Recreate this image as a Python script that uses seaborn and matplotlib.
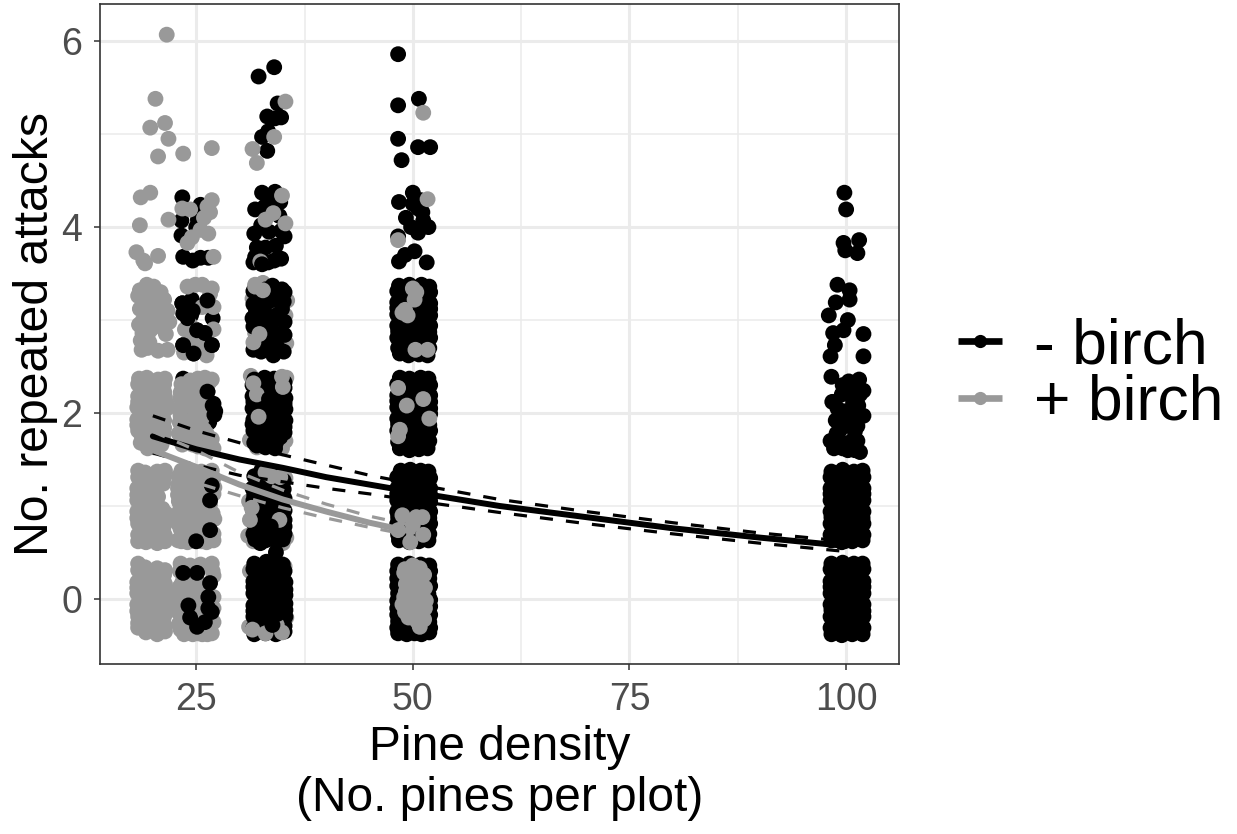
import pandas as pd
import matplotlib
matplotlib.use("Agg")
import matplotlib.pyplot as plt
from matplotlib.lines import Line2D
import seaborn as sns

# ---------------- Points (pine density, attacks) ----------------
# grey points that sit under the black ones
grey_under = [
    (31.8,3.38),(32.7,3.40),(31.5,3.23),(35.5,3.21),(35.3,3.05),(31.8,2.86),(35.4,2.75),
    (31.3,2.40),(35.4,2.38),(31.2,1.71),(32.0,1.63),(35.3,1.70),(34.9,1.62),
    (31.1,1.05),(35.3,1.30),(31.0,0.68),(35.4,0.66),(31.6,0.62),(35.0,0.60),
    (31.2,0.30),(35.2,0.35),(31.1,-0.30),(35.4,-0.2),
]

black_base = [
    # density 25, upper scatter
    (23.4,4.32),(25.5,4.24),(23.3,4.07),(25.2,4.08),(23.3,3.91),(25.0,4.00),
    (23.5,3.68),(24.6,3.64),(25.5,3.67),(26.4,3.67),
    (23.4,3.18),(24.5,3.22),(26.3,3.21),(23.5,3.07),(24.4,3.05),(25.1,2.89),(26.0,2.86),
    (23.5,2.73),(26.8,2.73),(24.7,2.64),(26.9,3.02),
    (23.5,2.37),(26.3,2.23),(27.0,2.10),(27.2,2.02),(26.5,1.90),(23.6,1.95),(26.4,1.65),(24.0,1.70),
    # density 33
    (34.4,5.33),(33.2,5.19),(34.1,5.17),(34.8,5.18),(33.3,5.03),(32.6,4.97),(33.2,4.82),
    (32.2,5.62),(34.0,5.72),
    (32.6,4.37),(34.1,4.38),(34.7,4.27),(31.8,4.19),(32.9,4.22),(33.5,4.30),(34.6,4.12),
    (32.5,4.02),(31.7,3.93),(33.4,3.95),(34.8,3.96),(35.2,3.90),(32.0,3.78),(33.0,3.78),
    (34.2,3.80),(31.8,3.68),(33.3,3.62),(34.8,3.66),(31.6,3.62),(34.0,3.64),
    (33.8,3.37),(34.9,3.33),(34.3,3.22),(35.1,3.20),(32.6,3.25),(33.4,3.20),
    (31.9,3.10),(33.0,3.05),(34.2,3.05),(35.2,2.98),(32.4,2.95),(33.6,2.90),(34.8,2.85),
    (31.7,2.76),(33.2,2.75),(34.3,2.72),(35.1,2.66),(33.9,2.62),(32.5,2.66),
    (31.7,2.36),(32.9,2.38),(34.0,2.37),(35.2,2.33),(32.3,2.24),(33.5,2.25),(34.7,2.22),
    (31.6,2.12),(32.9,2.12),(34.0,2.10),(35.2,2.10),(32.3,2.00),(33.5,1.99),(34.7,1.98),
    (31.5,1.88),(32.9,1.87),(34.1,1.86),(35.2,1.85),(32.4,1.76),(33.5,1.75),(34.7,1.74),
    (32.0,1.65),(33.0,1.63),(34.1,1.62),
    (32.5,1.38),(33.4,1.37),(34.3,1.36),(35.1,1.18),(32.0,1.25),(33.0,1.24),(34.2,1.24),
    (31.7,1.12),(32.9,1.12),(34.3,1.12),(32.3,1.00),(33.5,1.00),(34.8,1.00),
    (31.6,0.88),(32.9,0.88),(34.1,0.88),(35.2,0.85),(32.3,0.76),(33.5,0.75),(34.7,0.76),
    (31.8,0.64),(33.0,0.63),(34.1,0.63),(35.0,0.64),(32.4,0.60),
    (31.7,0.38),(32.9,0.37),(34.0,0.38),(35.0,0.37),(32.3,0.25),(33.6,0.25),(34.8,0.24),
    (31.6,0.13),(33.0,0.12),(34.2,0.12),(35.3,0.10),(32.4,0.00),(33.6,0.01),(34.8,-0.01),
    (31.6,-0.13),(32.9,-0.12),(34.2,-0.13),(35.3,-0.12),(32.4,-0.24),(33.6,-0.25),(34.8,-0.24),
    (31.7,-0.38),(33.0,-0.37),(34.2,-0.38),(35.2,-0.35),
    # density 50
    (48.3,5.86),(50.7,5.38),(48.3,5.31),(48.3,4.95),(48.7,4.72),(50.6,4.86),(52.0,4.86),
    (48.4,4.27),(50.0,4.37),(50.9,4.29),(50.0,4.25),(50.6,4.20),(49.2,4.10),(49.8,4.00),
    (50.6,3.94),(51.8,4.00),(51.2,4.07),(51.1,4.16),(48.3,3.90),(50.2,3.74),(49.1,3.70),
    (48.4,3.63),(51.6,3.62),
    (48.4,3.37),(49.6,3.38),(51.0,3.38),(51.9,3.36),(48.9,3.25),(50.3,3.25),(51.5,3.24),
    (48.2,3.13),(49.5,3.12),(50.7,3.12),(52.0,3.12),(48.9,3.00),(50.2,3.00),(51.5,2.99),
    (48.3,2.88),(49.5,2.87),(50.7,2.88),(51.9,2.87),(48.9,2.76),(50.2,2.75),(51.4,2.76),
    (48.5,2.64),(49.5,2.62),(50.7,2.63),(51.7,2.62),
    (48.5,2.38),(49.6,2.37),(50.9,2.38),(51.8,2.37),(48.9,2.25),(50.2,2.25),(51.5,2.25),
    (48.2,2.13),(49.5,2.12),(50.7,2.12),(52.0,2.12),(48.9,2.00),(50.2,2.00),(51.5,2.00),
    (48.3,1.88),(49.5,1.87),(50.7,1.88),(51.9,1.87),(48.9,1.75),(50.2,1.76),(51.4,1.75),
    (48.5,1.62),(49.6,1.60),(50.7,1.61),(51.7,1.62),
    (48.6,1.38),(49.7,1.39),(50.9,1.38),(51.8,1.37),(48.9,1.25),(50.2,1.26),(51.5,1.25),
    (48.2,1.13),(49.5,1.12),(50.7,1.12),(52.0,1.12),(48.9,1.00),(50.2,1.00),(51.5,1.00),
    (48.3,0.88),(49.5,0.87),(50.7,0.88),(51.9,0.87),(48.9,0.75),(50.2,0.76),(51.5,0.75),
    (48.4,0.63),(49.6,0.61),(50.7,0.62),(51.8,0.63),
    (48.3,0.37),(49.6,0.38),(50.9,0.37),(51.9,0.36),(48.2,0.22),(51.9,0.22),(48.3,0.06),
    (51.8,0.05),(48.2,-0.10),(52.0,-0.08),(48.3,-0.24),(49.4,-0.22),(51.9,-0.25),
    (48.3,-0.37),(49.3,-0.38),(50.2,-0.37),(51.0,-0.38),(51.9,-0.36),(49.9,-0.28),
    # density 100
    (99.8,4.37),(100.0,4.19),(99.7,3.83),(101.5,3.86),(101.3,3.72),(99.9,3.75),
    (99.0,3.38),(100.4,3.32),(100.4,3.22),(98.8,3.19),(98.0,3.05),(100.2,3.00),(99.7,2.89),
    (98.5,2.86),(102.0,2.85),(98.7,2.73),(98.2,2.61),(102.0,2.61),
    (98.3,2.39),(101.5,2.36),(100.3,2.34),(99.6,2.30),(102.0,2.24),(100.8,2.26),(98.4,2.12),
    (99.5,2.20),(100.8,2.12),(101.4,2.08),(102.0,1.97),(98.8,1.92),(100.0,2.02),(99.3,1.82),
    (101.0,1.80),(98.2,1.70),(99.1,1.72),(100.3,1.68),(101.3,1.70),(101.6,1.58),(99.6,1.62),
    (100.6,1.62),(99.0,2.05),(98.9,1.78),(100.5,1.95),(101.2,1.92),(100.0,1.88),(100.9,1.72),
    (101.3,1.86),(99.6,1.95),(99.9,2.22),(101.1,2.32),(101.6,2.20),(98.6,1.62),(101.0,1.60),
    (100.2,1.60),
    (98.3,1.37),(99.6,1.39),(100.9,1.37),(101.9,1.38),(98.9,1.25),(100.2,1.25),(101.5,1.26),
    (98.2,1.13),(99.5,1.12),(100.7,1.12),(102.0,1.13),(98.9,1.00),(100.2,1.00),(101.5,1.00),
    (98.3,0.88),(99.5,0.87),(100.7,0.88),(101.9,0.87),(98.9,0.75),(100.2,0.76),(101.5,0.75),
    (98.3,0.63),(99.5,0.61),(100.7,0.62),(101.9,0.63),
    (98.3,0.38),(99.6,0.39),(100.9,0.38),(101.9,0.38),(98.9,0.25),(100.2,0.25),(101.5,0.26),
    (98.2,0.13),(99.5,0.12),(100.7,0.12),(102.0,0.13),(98.9,0.00),(100.2,0.00),(101.5,0.00),
    (98.3,-0.12),(99.5,-0.13),(100.7,-0.12),(102.0,-0.13),(98.9,-0.25),(100.2,-0.24),(101.5,-0.25),
    (98.3,-0.38),(99.5,-0.39),(100.7,-0.38),(101.9,-0.38),
]

# black points inside the dense blocks
black_fill = [
    # density 33
    (31.6,3.31),(33.0,3.33),(34.2,3.31),(35.2,3.30),(31.6,3.17),(32.8,3.14),(34.9,3.12),
    (31.5,3.02),(32.7,3.00),(33.9,3.00),(31.6,2.93),(33.0,2.82),(34.1,2.86),(35.2,2.84),
    (31.6,2.68),(32.8,2.70),(34.6,2.68),
    (31.5,2.30),(32.7,2.31),(33.9,2.30),(35.2,2.27),(31.5,2.18),(33.1,2.18),(34.2,2.18),
    (35.3,2.16),(31.5,2.05),(32.8,2.06),(34.1,2.04),(35.3,2.04),(31.6,1.93),(33.0,1.93),
    (34.2,1.92),(35.3,1.92),(31.6,1.81),(32.9,1.81),(34.1,1.80),(35.2,1.79),(31.7,1.68),
    (33.0,1.69),(34.2,1.68),
    (31.7,1.32),(32.8,1.31),(34.0,1.30),(35.1,1.27),(31.5,1.19),(32.7,1.18),(33.9,1.18),
    (35.2,1.08),(31.6,1.06),(33.0,1.06),(34.1,1.06),(31.6,0.94),(32.8,0.94),(34.1,0.94),
    (35.2,0.95),(31.6,0.82),(33.0,0.81),(34.2,0.82),(35.2,0.78),(31.6,0.70),(32.9,0.69),
    (34.1,0.69),(35.2,0.70),
    (31.6,0.32),(33.0,0.31),(34.2,0.31),(35.2,0.30),(31.6,0.19),(32.8,0.19),(34.0,0.19),
    (35.3,0.18),(31.6,0.06),(32.9,0.06),(34.1,0.06),(35.3,0.04),(31.6,-0.07),(33.0,-0.06),
    (34.2,-0.06),(35.3,-0.05),(31.6,-0.19),(32.8,-0.19),(34.1,-0.19),(35.3,-0.19),
    (31.6,-0.31),(33.0,-0.31),(34.2,-0.31),(35.2,-0.29),
    # density 50
    (48.2,3.31),(49.5,3.31),(50.7,3.31),(52.0,3.30),(48.2,3.19),(49.6,3.18),(50.8,3.18),
    (52.0,3.18),(48.2,3.06),(49.5,3.06),(50.8,3.06),(52.0,3.05),(48.2,2.94),(49.6,2.94),
    (50.8,2.94),(52.0,2.94),(48.2,2.81),(49.5,2.82),(50.8,2.81),(52.0,2.81),(48.3,2.70),
    (49.6,2.69),(50.8,2.69),(51.9,2.70),
    (48.2,2.31),(49.5,2.31),(50.7,2.31),(52.0,2.30),(48.2,2.19),(49.6,2.18),(50.8,2.18),
    (52.0,2.19),(48.2,2.06),(49.5,2.06),(50.8,2.06),(52.0,2.05),(48.2,1.94),(49.6,1.94),
    (50.8,1.94),(52.0,1.99),(48.2,1.81),(49.5,1.82),(50.8,1.81),(52.0,1.81),(48.3,1.69),
    (49.6,1.69),(50.8,1.69),(51.9,1.70),
    (48.2,1.31),(49.5,1.31),(50.7,1.31),(52.0,1.30),(48.2,1.19),(49.6,1.18),(50.8,1.18),
    (52.0,1.19),(48.2,1.06),(49.5,1.06),(50.8,1.06),(52.0,1.05),(48.2,0.94),(49.6,0.94),
    (50.8,0.94),(52.0,0.94),(48.2,0.81),(49.5,0.82),(50.8,0.81),(52.0,0.81),(48.3,0.69),
    (49.6,0.69),(50.8,0.69),(51.9,0.70),
    (48.2,0.30),(52.0,0.30),(48.2,0.14),(52.0,0.14),(48.2,-0.02),(52.0,-0.01),(48.2,-0.17),
    (49.2,-0.30),(52.0,-0.17),(48.2,-0.31),(50.3,-0.31),(51.2,-0.30),(52.0,-0.31),
    # density 100
    (98.2,1.31),(99.4,1.31),(100.7,1.31),(102.0,1.31),(98.2,1.19),(99.5,1.19),(100.8,1.19),
    (102.0,1.19),(98.2,1.06),(99.5,1.06),(100.8,1.06),(102.0,1.06),(98.2,0.94),(99.5,0.94),
    (100.8,0.94),(102.0,0.94),(98.2,0.81),(99.5,0.81),(100.8,0.81),(102.0,0.81),(98.2,0.69),
    (99.5,0.69),(100.8,0.69),(102.0,0.69),
    (98.2,0.32),(99.5,0.32),(100.8,0.32),(102.0,0.32),(98.2,0.19),(99.5,0.19),(100.8,0.19),
    (102.0,0.19),(98.2,0.06),(99.5,0.06),(100.8,0.06),(102.0,0.06),(98.2,-0.06),(99.5,-0.06),
    (100.8,-0.06),(102.0,-0.06),(98.2,-0.19),(99.5,-0.19),(100.8,-0.19),(102.0,-0.19),
    (98.2,-0.31),(99.5,-0.31),(100.8,-0.31),(102.0,-0.31),
]

# grey points inside the dense blocks
grey_fill = [
    # density 20
    (18.3,3.26),(19.4,3.30),(20.4,3.28),(18.5,3.12),(20.2,3.10),(21.0,3.18),(18.8,2.99),
    (20.4,3.04),(21.1,2.92),(18.8,2.86),(19.4,2.84),(19.1,2.75),(21.3,3.22),(21.7,3.10),
    (21.5,2.85),
    (18.3,2.31),(19.3,2.31),(20.3,2.30),(21.3,2.31),(18.3,2.18),(19.3,2.18),(20.4,2.17),
    (21.4,2.17),(18.2,2.06),(19.3,2.06),(20.3,2.05),(21.5,2.04),(18.2,1.93),(19.3,1.94),
    (20.3,1.93),(21.3,1.92),(18.3,1.81),(19.4,1.81),(20.4,1.80),(21.3,1.78),(19.0,1.69),
    (20.0,1.69),(21.1,1.72),
    (18.3,1.31),(19.3,1.31),(20.3,1.30),(21.3,1.31),(18.2,1.19),(19.3,1.18),(20.4,1.18),
    (18.2,1.06),(19.3,1.06),(20.3,1.05),(18.2,0.94),(19.3,0.93),(20.4,0.93),(21.5,0.92),
    (18.3,0.81),(19.3,0.81),(20.3,0.80),(21.3,0.80),(18.3,0.69),(19.3,0.68),(20.4,0.68),
    (21.4,0.68),
    (18.3,0.31),(19.3,0.27),(20.3,0.26),(21.3,0.26),(18.2,0.18),(19.3,0.17),(20.4,0.16),
    (21.4,0.16),(18.2,0.06),(19.3,0.05),(20.3,0.04),(21.4,0.04),(18.2,-0.06),(19.3,-0.07),
    (20.4,-0.07),(21.4,-0.07),(18.3,-0.19),(19.3,-0.19),(20.3,-0.19),(21.3,-0.19),
    (18.3,-0.26),(19.3,-0.31),(20.4,-0.31),(21.4,-0.30),
    # density 25
    (23.3,2.31),(24.3,2.30),(25.3,2.30),(26.5,2.33),(23.2,2.16),(25.0,2.14),(25.9,2.12),
    (23.0,2.04),(24.5,2.06),(25.8,2.02),(23.1,1.90),(25.2,1.88),(25.9,1.82),(23.0,1.78),
    (26.2,1.78),(23.5,1.72),(24.6,1.66),(26.8,1.72),
    (23.0,1.32),(24.0,1.31),(25.0,1.31),(26.2,1.32),(27.0,1.30),(22.9,1.19),(24.7,1.18),
    (25.9,1.18),(27.1,1.20),(23.0,1.05),(24.4,1.06),(25.5,1.05),(26.6,1.02),(23.0,0.93),
    (24.0,0.94),(25.0,0.93),(26.2,0.94),(27.1,0.86),(22.9,0.81),(24.1,0.80),(25.3,0.80),
    (26.4,0.80),(23.6,0.70),(25.0,0.70),(25.9,0.68),(23.3,0.62),(24.6,0.63),(25.6,0.62),
    (23.1,0.30),(24.1,0.26),(25.4,0.33),(27.0,0.25),(23.4,0.18),(24.4,0.16),(25.2,0.18),
    (23.0,0.06),(24.4,0.06),(25.4,0.05),(23.0,-0.07),(24.6,-0.07),(25.6,-0.08),(27.0,-0.10),
    (23.3,-0.21),(22.9,-0.14),(25.4,-0.20),(23.2,-0.33),(24.1,-0.36),(25.2,-0.37),(26.3,-0.38),
    # density 50
    (49.1,0.32),(50.0,0.26),(50.8,0.33),(49.2,0.16),(50.1,0.14),(51.0,0.16),(49.0,0.02),
    (49.9,-0.02),(50.9,0.00),(51.4,0.12),(49.1,-0.14),(50.0,-0.14),(50.9,-0.14),(51.4,-0.10),
    (50.0,0.36),(50.5,-0.24),
]

grey_mid = [
    # density 20
    (21.6,6.07),(20.3,5.38),(19.7,5.07),(21.4,5.12),(21.8,4.95),(20.6,4.76),
    (18.6,4.32),(19.7,4.37),(18.5,4.02),(21.8,4.08),(18.1,3.73),(20.6,3.69),(19.1,3.61),(18.9,3.64),
    (18.5,3.32),(19.3,3.38),(20.1,3.36),(20.9,3.30),(18.9,3.20),(19.7,3.22),(20.5,3.15),
    (21.3,3.05),(19.2,3.05),(20.0,3.02),(20.7,2.98),(21.9,2.98),(19.0,2.92),(19.8,2.90),
    (18.4,2.95),(18.6,2.78),(18.7,2.68),(19.4,2.70),(20.6,2.67),(21.7,2.68),(19.6,2.76),
    (18.4,2.37),(19.3,2.38),(20.6,2.36),(21.4,2.37),(18.7,2.25),(20.0,2.24),(21.3,2.23),
    (18.3,2.12),(19.3,2.13),(20.6,2.11),(21.6,2.10),(18.7,2.00),(20.0,1.99),(21.1,1.98),
    (18.2,1.87),(19.3,1.88),(20.6,1.87),(21.3,1.84),(18.7,1.76),(20.0,1.75),(18.6,1.68),
    (19.4,1.62),(20.2,1.63),(21.0,1.66),
    (18.3,1.38),(19.1,1.36),(20.5,1.37),(21.4,1.38),(18.6,1.25),(19.9,1.24),(21.2,1.24),
    (18.2,1.12),(19.3,1.11),(20.6,1.10),(18.7,1.00),(19.9,0.99),(21.1,0.97),
    (18.2,0.87),(19.3,0.88),(20.6,0.87),(21.5,0.86),(18.6,0.75),(19.9,0.75),(21.2,0.74),
    (18.3,0.62),(19.2,0.61),(20.5,0.60),(21.4,0.62),
    (18.3,0.38),(19.1,0.34),(20.5,0.33),(21.4,0.31),(18.6,0.25),(19.9,0.22),(21.2,0.21),
    (18.2,0.12),(19.3,0.11),(20.6,0.10),(21.5,0.10),(18.7,0.00),(19.9,-0.01),(21.2,-0.02),
    (18.2,-0.13),(19.3,-0.12),(20.6,-0.13),(21.5,-0.12),(18.6,-0.24),(19.9,-0.25),(21.2,-0.24),
    (18.3,-0.31),(19.2,-0.36),(20.5,-0.38),(21.4,-0.35),
    # density 25
    (23.5,4.79),(26.8,4.85),
    (23.4,4.20),(24.3,4.19),(26.8,4.29),(26.3,4.22),(26.6,4.16),(24.5,3.89),(25.5,3.97),
    (26.4,3.93),(24.0,3.83),(27.0,3.68),(25.9,4.10),
    (24.0,3.36),(24.9,3.38),(25.7,3.38),(26.8,3.34),(25.7,3.14),(27.0,3.14),(24.3,2.95),
    (26.6,3.28),(23.7,2.90),(24.2,2.78),(25.3,2.74),(26.2,2.62),(23.6,2.65),(27.0,2.90),
    (24.3,2.35),(25.2,2.37),(26.0,2.38),(26.8,2.36),(23.2,2.22),(24.4,2.22),(25.5,2.20),
    (23.9,2.08),(25.1,2.06),(23.2,1.97),(24.4,1.92),(25.6,1.93),(26.6,1.72),(24.0,1.78),
    (25.1,1.78),(23.4,1.66),(25.2,1.64),(27.0,1.62),(26.0,1.62),
    (23.3,1.38),(24.4,1.38),(25.6,1.37),(26.8,1.38),(23.0,1.25),(24.1,1.25),(25.3,1.24),
    (26.2,1.26),(22.9,1.12),(23.8,1.12),(25.0,1.11),(26.1,1.12),(27.0,1.13),(23.2,1.00),
    (24.4,1.00),(25.6,0.99),(26.9,0.92),(22.8,0.87),(24.0,0.87),(25.2,0.86),(26.4,0.86),
    (23.2,0.75),(24.4,0.74),(25.6,0.75),(27.0,0.70),(22.9,0.63),(24.0,0.61),(26.2,0.61),
    (27.0,0.63),
    (23.2,0.38),(24.3,0.36),(25.5,0.37),(26.8,0.38),(23.8,0.20),(26.9,0.30),(23.1,0.13),
    (24.9,0.12),(25.6,0.05),(22.9,0.00),(23.9,0.02),(25.0,-0.02),(27.0,0.02),(23.2,-0.15),
    (25.2,-0.12),(27.0,-0.25),(23.0,-0.27),(23.6,-0.38),(24.6,-0.38),(25.7,-0.38),
    (26.8,-0.37),(23.4,-0.28),
    # density 33
    (35.3,5.35),(34.0,4.97),(31.5,4.84),(32.0,4.69),
    (34.9,4.34),(33.9,4.15),(33.0,4.08),(35.3,4.04),(32.4,3.63),
    (31.8,3.36),(32.7,3.32),(31.6,2.76),(32.3,2.85),
    (31.6,2.32),(34.9,2.39),(32.2,1.96),(35.0,2.28),(32.0,2.20),
    (34.7,1.31),(31.2,0.85),(34.6,0.85),(33.0,1.36),(33.7,1.32),(31.4,0.98),
    (31.5,-0.33),(33.0,-0.37),(34.9,-0.36),(34.3,-0.28),
    # density 50
    (51.2,5.23),(51.7,4.30),(48.3,3.86),
    (50.0,3.34),(50.4,3.30),(50.2,3.22),(49.1,3.11),(48.8,3.08),(49.4,3.05),
    (50.3,2.68),(51.7,2.68),
    (48.3,2.27),(51.2,2.15),(49.3,2.08),(51.9,1.94),(48.3,1.75),(48.5,1.82),
    (48.8,0.90),(51.1,0.88),(50.0,0.80),(51.2,0.69),(48.3,0.74),(49.7,0.61),(50.4,0.88),
    (49.0,0.28),(50.2,0.34),(49.7,0.20),(50.6,0.18),(51.3,0.26),(49.2,0.08),(50.1,0.04),
    (51.1,0.06),(48.8,-0.06),(49.7,-0.08),(50.6,-0.06),(51.5,-0.02),(49.5,-0.20),
    (50.4,-0.20),(51.3,-0.22),(50.8,-0.30),
]

black_top = [
    (26.6,0.74),(25.0,0.62),(26.6,1.06),(26.8,1.22),(26.3,2.23),(26.9,2.08),(27.1,1.98),
    (23.5,0.28),(25.1,0.28),(26.6,0.17),(26.4,0.02),(24.1,-0.07),(26.8,-0.14),
    (24.3,-0.20),(25.1,-0.30),(26.0,-0.25),(26.4,-0.10),
    (23.4,3.18),(24.6,3.10),(25.1,2.89),(26.3,3.21),(23.5,2.73),(26.8,2.73),(24.7,2.64),
    (26.0,2.86),(24.0,3.02),
    (33.4,2.15),(33.8,1.82),(32.4,1.72),(34.5,1.80),(33.6,0.78),(34.2,0.50),(33.1,0.40),
    (33.6,-0.18),(34.4,-0.16),(33.8,-0.28),(32.6,3.60),
]

# ---------------- Fitted lines with their confidence bands ----------------
line_x_noBirch = [20, 25, 30, 35, 40, 45, 50, 60, 70, 80, 90, 100]
line_y_noBirch = [1.75, 1.61, 1.50, 1.41, 1.31, 1.23, 1.15, 1.00, 0.88, 0.76, 0.66, 0.57]
upper_noBirch = [1.97, 1.81, 1.68, 1.55, 1.44, 1.33, 1.24, 1.07, 0.94, 0.82, 0.71, 0.62]
lower_noBirch = [1.57, 1.44, 1.33, 1.26, 1.19, 1.13, 1.06, 0.93, 0.81, 0.70, 0.60, 0.51]

line_x_birch = [20, 25, 30, 35, 40, 45, 50]
line_y_birch = [1.60, 1.42, 1.23, 1.07, 0.94, 0.82, 0.72]
upper_birch = [1.80, 1.60, 1.36, 1.17, 1.02, 0.89, 0.79]
lower_birch = [1.40, 1.25, 1.11, 0.98, 0.87, 0.77, 0.68]

x_ticks = [25, 50, 75, 100]
x_minor = [37.5, 62.5, 87.5]
y_ticks = [0, 2, 4, 6]
y_minor = [1, 3, 5]

BLACK = "#000000"
GREY = "#999999"

# ---------------- Build table, keeps drawing order ----------------
rows = []
for pts, group in [(grey_under, "+ birch"), (black_base, "- birch"), (black_fill, "- birch"),
                   (grey_fill, "+ birch"), (grey_mid, "+ birch"), (black_top, "- birch")]:
    for x, y in pts:
        rows.append({"density": x, "attacks": y, "group": group})
df = pd.DataFrame(rows)

sns.set_theme(style="whitegrid")
plt.rcParams["font.family"] = ["Liberation Sans", "DejaVu Sans"]

fig = plt.figure(figsize=(12.37, 8.34), dpi=100)
ax = fig.add_axes([100 / 1237, 1 - 664 / 834, 799 / 1237, 660 / 834])

sns.scatterplot(data=df, x="density", y="attacks", hue="group",
                palette={"- birch": BLACK, "+ birch": GREY},
                s=130, linewidth=0, alpha=1, legend=False, ax=ax, zorder=3)

# Fit lines
dash = (0, (4.1, 4.1))
sns.lineplot(x=line_x_noBirch, y=line_y_noBirch, color=BLACK, lw=4.3, ax=ax, zorder=4)
sns.lineplot(x=line_x_noBirch, y=upper_noBirch, color=BLACK, lw=2.3, linestyle=dash, ax=ax, zorder=4)
sns.lineplot(x=line_x_noBirch, y=lower_noBirch, color=BLACK, lw=2.3, linestyle=dash, ax=ax, zorder=4)
sns.lineplot(x=line_x_birch, y=line_y_birch, color=GREY, lw=4.3, ax=ax, zorder=4)
sns.lineplot(x=line_x_birch, y=upper_birch, color=GREY, lw=2.3, linestyle=dash, ax=ax, zorder=4)
sns.lineplot(x=line_x_birch, y=lower_birch, color=GREY, lw=2.3, linestyle=dash, ax=ax, zorder=4)

ax.set_xlim(13.9, 106.1)
ax.set_ylim(-0.70, 6.40)
ax.set_xticks(x_ticks)
ax.set_yticks(y_ticks)
ax.set_xticks(x_minor, minor=True)
ax.set_yticks(y_minor, minor=True)

ax.set_axisbelow(True)
ax.grid(which="major", color="#EBEBEB", lw=2.2)
ax.grid(which="minor", color="#EBEBEB", lw=1.1)
ax.tick_params(which="major", bottom=True, left=True, length=4, width=1.1, color="#333333",
               labelsize=27, labelcolor="#4D4D4D", pad=9)
ax.tick_params(which="minor", bottom=False, left=False, length=0)

for spine in ax.spines.values():
    spine.set_color("#333333")
    spine.set_linewidth(1.2)

ax.set_xlabel("Pine density\n(No. pines per plot)", fontsize=34.5, color="black",
              labelpad=5, linespacing=1.17)
ax.set_ylabel("No. repeated attacks", fontsize=34.7, color="black", labelpad=2)

# Legend
handles = [
    Line2D([], [], color=BLACK, lw=4.8, marker="o", markersize=9.5, markeredgewidth=0,
           solid_capstyle="butt"),
    Line2D([], [], color=GREY, lw=4.8, marker="o", markersize=9.5, markeredgewidth=0,
           solid_capstyle="butt"),
]
ax.legend(handles, ["- birch", "+ birch"], loc="center left",
          bbox_to_anchor=(958 / 1237, 1 - 375 / 834), bbox_transform=fig.transFigure,
          frameon=False, fontsize=45, numpoints=1, handlelength=0.7, handletextpad=0.51,
          labelspacing=-0.04, borderpad=0, borderaxespad=0, labelcolor="black")

fig.savefig("out.png", dpi=100)
